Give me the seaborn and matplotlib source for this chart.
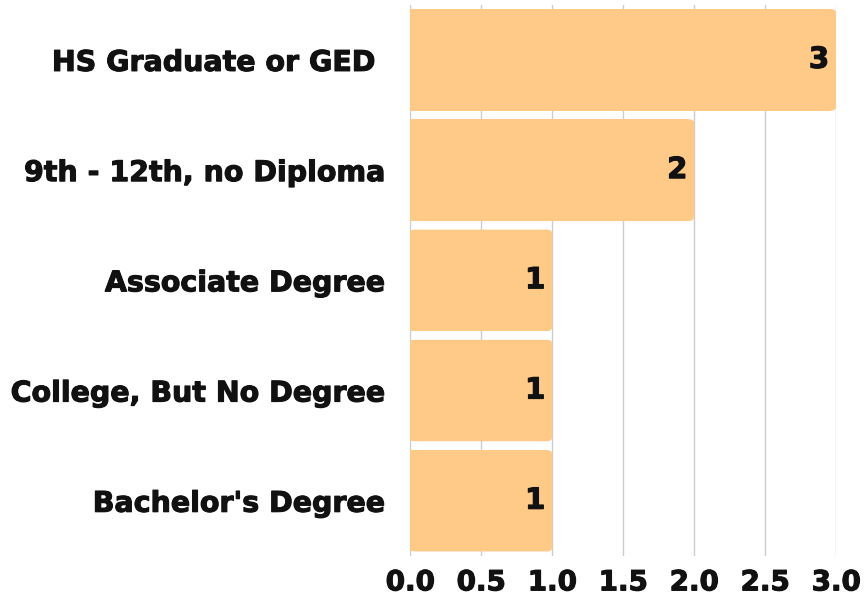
import matplotlib
matplotlib.use('Agg')
import matplotlib.pyplot as plt
import matplotlib.patheffects as pe
from matplotlib.patches import FancyBboxPatch
import seaborn as sns
import pandas as pd

# data
education = ['HS Graduate or GED ', '9th - 12th, no Diploma', 'Associate Degree',
             'College, But No Degree', "Bachelor's Degree"]
counts = [3, 2, 1, 1, 1]
ticks = [0.0, 0.5, 1.0, 1.5, 2.0, 2.5, 3.0]

df = pd.DataFrame({'education': education, 'count': counts})

sns.set_style('white')
plt.rcParams['font.family'] = ['DejaVu Sans']
plt.rcParams['text.color'] = '#111111'
plt.rcParams['xtick.color'] = '#111111'
plt.rcParams['ytick.color'] = '#111111'

bar_color = '#FFC987'
heavy = [pe.withStroke(linewidth=0.8, foreground='#111111')]

fig, ax = plt.subplots(figsize=(8.64, 5.99), dpi=100)
fig.subplots_adjust(left=0.475, right=0.968, top=0.992, bottom=0.072)

sns.barplot(data=df, x='count', y='education', color=bar_color, width=0.92,
            saturation=1, linewidth=0, ax=ax, zorder=2)

ax.set_xlim(0, 3)
ax.set_xticks(ticks)
ax.set_xticklabels([f'{t:.1f}' for t in ticks], fontsize=20, fontweight='bold')
ax.tick_params(axis='y', labelsize=20.5, length=0, pad=18)
ax.tick_params(axis='x', length=0, pad=9)
for lbl in ax.get_yticklabels() + ax.get_xticklabels():
    lbl.set_fontweight('bold')
    lbl.set_path_effects(heavy)
ax.xaxis.grid(True, color='#cccccc', linewidth=1, zorder=0)
ax.set_axisbelow(True)
for s in ax.spines.values():
    s.set_visible(False)
ax.set_xlabel('')
ax.set_ylabel('')

# round the right end of each bar
r = 0.035
for p in list(ax.patches):
    x0, y0, w, h = p.get_x(), p.get_y(), p.get_width(), p.get_height()
    p.set_width(w - r)
    ax.add_patch(FancyBboxPatch((x0, y0), w, h,
                                boxstyle=f'round,pad=0,rounding_size={r}',
                                mutation_aspect=1.3, facecolor=bar_color,
                                edgecolor='none', zorder=2))

# value labels inside the bars
for i, v in enumerate(counts):
    ax.text(v - 0.05, i, str(v), ha='right', va='center', fontsize=21,
            fontweight='bold', color='#111111', path_effects=heavy, zorder=3)

fig.savefig('out.png', dpi=100)
